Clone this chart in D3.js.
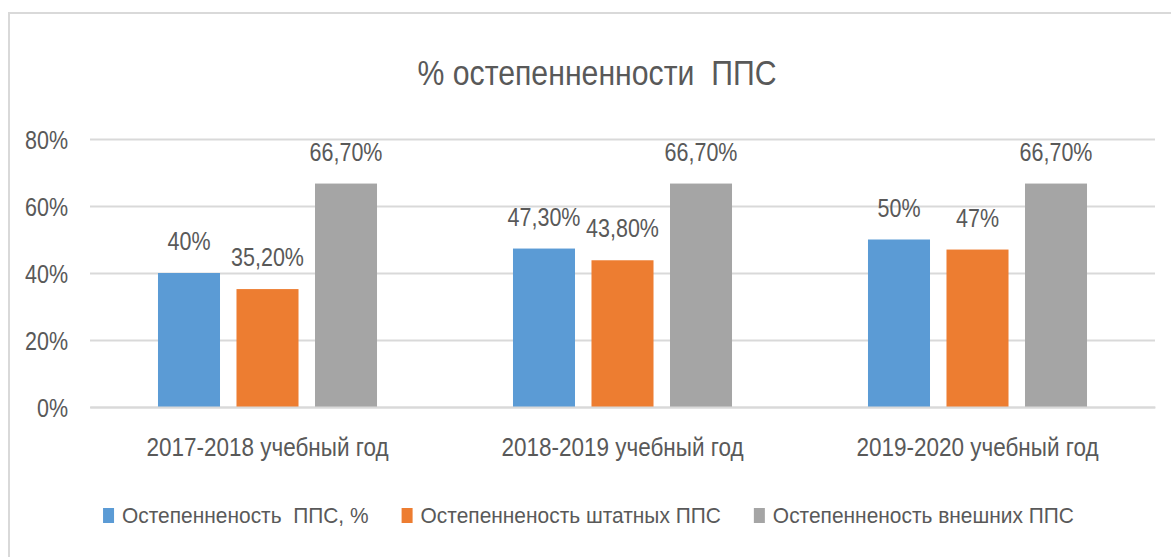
<!DOCTYPE html>
<html>
<head>
<meta charset="utf-8">
<script src="https://cdn.jsdelivr.net/npm/d3@7"></script>
<style>
  html,body{margin:0;padding:0;background:#fff;}
  svg{display:block;font-family:"Liberation Sans",Arial,sans-serif;}
  .grid line{stroke:#d9d9d9;stroke-width:2;}
  .axis text{fill:#595959;font-size:25px;}
</style>
</head>
<body>
<div id="chart"></div>
<script>
const categories=['2017-2018 учебный год','2018-2019 учебный год','2019-2020 учебный год'];
const seriesNames=['Остепенненость  ППС, %','Остепенненость штатных ППС','Остепенненость внешних ППС'];
const seriesColors=['#5b9bd5','#ed7d31','#a5a5a5'];
const valAll=[40,47.3,50];
const valStaff=[35.2,43.8,47];
const valExternal=[66.7,66.7,66.7];
const labAll=['40%','47,30%','50%'];
const labStaff=['35,20%','43,80%','47%'];
const labExternal=['66,70%','66,70%','66,70%'];
const yTicks=[0,20,40,60,80];
const title='% остепенненности  ППС';

(function(){
  const W=1171,H=557,m={t:139,r:16,b:150,l:90};
  const w=W-m.l-m.r,h=H-m.t-m.b;
  const SX=0.86; // the original typeface is narrow: squeeze text horizontally
  const svg=d3.select('#chart').append('svg').attr('width',W).attr('height',H);
  // outer frame (cut off at right/bottom in the original)
  svg.append('rect').attr('x',9).attr('y',13).attr('width',W+20).attr('height',H+20)
    .attr('fill','none').attr('stroke','#d9d9d9').attr('stroke-width',2);
  svg.append('text').attr('transform',`translate(597,85) scale(0.84,1)`).attr('text-anchor','middle')
    .attr('font-size',36).attr('fill','#595959').style('white-space','pre').text(title);

  const g=svg.append('g').attr('transform',`translate(${m.l},${m.t})`);
  const y=d3.scaleLinear().domain([0,80]).range([h,0]);
  const x0=d3.scaleBand().domain(categories).range([0,w]).paddingInner(.383).paddingOuter(.1915);
  const keys=['all','staff','ext'];
  const x1=d3.scaleBand().domain(keys).range([0,x0.bandwidth()]).paddingInner(.21);

  g.append('g').attr('class','grid')
    .call(d3.axisLeft(y).tickValues(yTicks).tickSize(-w).tickFormat(''))
    .call(s=>s.select('.domain').remove());
  g.append('g').attr('class','axis')
    .call(d3.axisLeft(y).tickValues(yTicks).tickSize(0).tickPadding(22).tickFormat(d=>d+'%'))
    .call(s=>s.select('.domain').remove())
    .selectAll('text').attr('dy','0.36em').attr('x',-22/SX).attr('transform',`scale(${SX},1)`);

  const rows=categories.map((c,i)=>({cat:c,vals:[
    {k:'all',v:valAll[i],lab:labAll[i],col:seriesColors[0]},
    {k:'staff',v:valStaff[i],lab:labStaff[i],col:seriesColors[1]},
    {k:'ext',v:valExternal[i],lab:labExternal[i],col:seriesColors[2]}]}));
  const grp=g.selectAll('.grp').data(rows).join('g').attr('class','grp')
    .attr('transform',d=>`translate(${x0(d.cat)},0)`);
  grp.selectAll('rect').data(d=>d.vals).join('rect')
    .attr('x',d=>x1(d.k)).attr('width',x1.bandwidth())
    .attr('y',d=>y(d.v)).attr('height',d=>h-y(d.v)).attr('fill',d=>d.col);
  grp.selectAll('text').data(d=>d.vals).join('text')
    .attr('transform',d=>`translate(${x1(d.k)+x1.bandwidth()/2},${y(d.v)-23}) scale(${SX},1)`)
    .attr('text-anchor','middle').attr('font-size',25).attr('fill','#595959').text(d=>d.lab);

  const xa=g.append('g').attr('class','axis').attr('transform',`translate(0,${h})`)
    .call(d3.axisBottom(x0).tickSize(0).tickPadding(0));
  xa.select('.domain').attr('stroke','#d9d9d9').attr('stroke-width',2);
  xa.selectAll('text').attr('dy',0).attr('y',49).attr('transform','scale(0.9,1)');

  // legend
  const LS=0.93;
  const leg=svg.append('g');
  let cx=0;
  seriesNames.forEach((n,i)=>{
    const it=leg.append('g').attr('transform',`translate(${cx},0)`);
    it.append('rect').attr('x',0).attr('y',-15).attr('width',11).attr('height',15).attr('fill',seriesColors[i]);
    const t=it.append('text').attr('transform',`translate(19,0) scale(${LS},1)`).attr('font-size',22.5).attr('fill','#595959')
      .style('white-space','pre').text(n);
    cx+=19+t.node().getComputedTextLength()*LS+33;
  });
  const total=cx-33;
  leg.attr('transform',`translate(${588.5-total/2},523)`);
})();
</script>
</body>
</html>
